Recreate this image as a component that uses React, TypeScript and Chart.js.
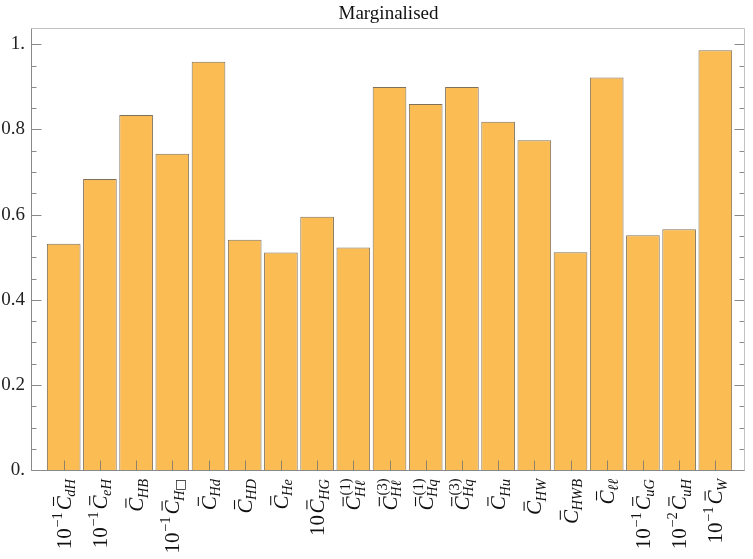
import React, { useEffect, useRef } from 'react';
import { Chart, registerables } from 'chart.js';

Chart.register(...registerables);

// ---- data ----
const chartTitle = 'Marginalised';
const labelPrefix = ['10', '10', '', '10', '', '', '', '10', '', '', '', '', '', '', '', '', '10', '10', '10'];
const labelPrefixExp = ['−1', '−1', '', '−1', '', '', '', '', '', '', '', '', '', '', '', '', '−1', '−2', '−1'];
const labelSub = ['dH', 'eH', 'HB', 'H□', 'Hd', 'HD', 'He', 'HG', 'Hℓ', 'Hℓ', 'Hq', 'Hq', 'Hu', 'HW', 'HWB', 'ℓℓ', 'uG', 'uH', 'W'];
const labelSup = ['', '', '', '', '', '', '', '', '(1)', '(3)', '(1)', '(3)', '', '', '', '', '', '', ''];
const values = [0.532, 0.684, 0.834, 0.743, 0.959, 0.541, 0.511, 0.595, 0.523, 0.9, 0.86, 0.9, 0.818, 0.775, 0.512, 0.922, 0.552, 0.566, 0.986];
const yTickValues = [0, 0.2, 0.4, 0.6, 0.8, 1.0];
const yTickLabels = ['0.', '0.2', '0.4', '0.6', '0.8', '1.'];
const yMinorValues = [0.05, 0.1, 0.15, 0.25, 0.3, 0.35, 0.45, 0.5, 0.55, 0.65, 0.7, 0.75, 0.85, 0.9, 0.95];

const FONT = '"Liberation Serif", "DejaVu Serif", serif';

function measure(ctx: CanvasRenderingContext2D, font: string, t: string) {
  ctx.font = font;
  return t ? ctx.measureText(t).width : 0;
}

function subFont(ch: string, size: number) {
  return ch === '□' ? `${size * 0.85}px "DejaVu Sans", ${FONT}` : `italic ${size}px ${FONT}`;
}

function measureSub(ctx: CanvasRenderingContext2D, s: string, size: number) {
  let w = 0;
  for (const ch of Array.from(s)) w += measure(ctx, subFont(ch, size), ch);
  return w;
}

function drawLabel(ctx: CanvasRenderingContext2D, cx: number, topY: number, i: number) {
  const big = 21;
  const small = 14.5;
  const pre = labelPrefix[i];
  const exp = labelPrefixExp[i];
  const sub = labelSub[i];
  const sup = labelSup[i];
  const wPre = measure(ctx, `${big}px ${FONT}`, pre);
  const wExp = exp ? measure(ctx, `${small}px ${FONT}`, exp) + 1 : 0;
  const gap = pre ? 1.5 : 0;
  const wC = measure(ctx, `italic ${big}px ${FONT}`, 'C');
  const wSub = measureSub(ctx, sub, small);
  const wSup = measure(ctx, `${small}px ${FONT}`, sup);
  const W = wPre + wExp + gap + wC + Math.max(wSub, wSup + 1);

  ctx.save();
  ctx.translate(cx + 7, topY);
  ctx.rotate(-Math.PI / 2);
  ctx.fillStyle = '#111';
  ctx.strokeStyle = '#111';
  ctx.textBaseline = 'alphabetic';
  ctx.textAlign = 'left';
  let xx = -W;
  if (pre) {
    ctx.font = `${big}px ${FONT}`;
    ctx.fillText(pre, xx, 0);
    xx += wPre;
  }
  if (exp) {
    ctx.font = `${small}px ${FONT}`;
    ctx.fillText(exp, xx + 0.5, -9);
    xx += wExp;
  }
  xx += gap;
  ctx.font = `italic ${big}px ${FONT}`;
  ctx.fillText('C', xx, 0);
  ctx.lineWidth = 1.1;
  ctx.beginPath();
  ctx.moveTo(xx + wC * 0.3, -17.2);
  ctx.lineTo(xx + wC * 0.95, -17.2);
  ctx.stroke();
  xx += wC;
  let sx = xx - 0.5;
  for (const ch of Array.from(sub)) {
    ctx.font = subFont(ch, small);
    ctx.fillText(ch, sx, 4.5);
    sx += ctx.measureText(ch).width;
  }
  if (sup) {
    ctx.font = `${small}px ${FONT}`;
    ctx.fillText(sup, xx + 1, -10);
  }
  ctx.restore();
}

const framePlugin = {
  id: 'mmaFrame',
  afterDatasetsDraw(chart: any) {
    const { ctx, chartArea: a, scales } = chart;
    const x = scales.x;
    const y = scales.y;
    const L = Math.round(a.left) - 0.5;
    const R = Math.round(a.right) - 0.5;
    const T = Math.round(a.top) + 0.5;
    const B = Math.round(a.bottom) + 0.5;
    ctx.save();
    ctx.lineWidth = 1;
    // x ticks at bar centres
    ctx.strokeStyle = 'rgba(110,110,110,0.75)';
    ctx.beginPath();
    for (let i = 0; i < values.length; i++) {
      const px = Math.round(x.getPixelForValue(i)) + 0.5;
      ctx.moveTo(px, B);
      ctx.lineTo(px, B - 10);
    }
    ctx.stroke();
    // y ticks
    ctx.strokeStyle = '#8a8a8a';
    ctx.beginPath();
    for (const v of yTickValues) {
      const py = Math.round(y.getPixelForValue(v)) + 0.5;
      ctx.moveTo(L, py);
      ctx.lineTo(L + 10, py);
      ctx.moveTo(R, py);
      ctx.lineTo(R - 10, py);
    }
    for (const v of yMinorValues) {
      const py = Math.round(y.getPixelForValue(v)) + 0.5;
      ctx.moveTo(L, py);
      ctx.lineTo(L + 5, py);
      ctx.moveTo(R, py);
      ctx.lineTo(R - 5, py);
    }
    ctx.stroke();
    // frame: top/right lighter
    ctx.strokeStyle = '#c2c2c2';
    ctx.beginPath();
    ctx.moveTo(L, T);
    ctx.lineTo(R, T);
    ctx.lineTo(R, B);
    ctx.stroke();
    ctx.strokeStyle = '#8a8a8a';
    ctx.beginPath();
    ctx.moveTo(L, T);
    ctx.lineTo(L, B);
    ctx.lineTo(R, B);
    ctx.stroke();
    ctx.restore();
  },
  afterDraw(chart: any) {
    const { ctx, chartArea: a, scales } = chart;
    const x = scales.x;
    ctx.save();
    ctx.fillStyle = '#111';
    ctx.font = `19px ${FONT}`;
    ctx.textAlign = 'center';
    ctx.textBaseline = 'alphabetic';
    ctx.fillText(chartTitle, (a.left + a.right) / 2, 18.5);
    ctx.restore();
    for (let i = 0; i < values.length; i++) {
      drawLabel(ctx, x.getPixelForValue(i), 478.5, i);
    }
  },
};

export default function App() {
  const ref = useRef<HTMLCanvasElement | null>(null);
  useEffect(() => {
    document.body.style.margin = '0';
    if (!ref.current) return;
    const chart = new Chart(ref.current, {
      type: 'bar',
      data: {
        datasets: [
          {
            data: values.map((v, i) => ({ x: i, y: v })),
            backgroundColor: '#fbbc53',
            borderColor: '#7f7159',
            borderWidth: 1,
            barPercentage: 0.93,
            categoryPercentage: 1,
          },
        ],
      },
      options: {
        animation: false,
        responsive: true,
        maintainAspectRatio: false,
        events: [],
        layout: { padding: { left: 0, right: 8, top: 27.5, bottom: 88.7 } },
        plugins: { legend: { display: false }, tooltip: { enabled: false }, title: { display: false } },
        scales: {
          x: {
            type: 'linear',
            min: -0.876,
            max: 18.82,
            offset: false,
            grid: { offset: false },
            display: false,
          },
          y: {
            min: 0,
            max: 1.0394,
            afterBuildTicks: (s: any) => {
              s.ticks = yTickValues.map((v) => ({ value: v }));
            },
            afterFit: (s: any) => {
              s.width = 32;
            },
            ticks: {
              callback: (_v: any, idx: number) => yTickLabels[idx],
              font: { family: FONT, size: 19 },
              color: '#222',
              padding: 7,
            },
            grid: { display: false, drawTicks: false },
            border: { display: false },
          },
        },
      },
      plugins: [framePlugin],
    });
    return () => chart.destroy();
  }, []);
  return (
    <div style={{ width: 753, height: 559, position: 'relative' }}>
      <canvas ref={ref} />
    </div>
  );
}
